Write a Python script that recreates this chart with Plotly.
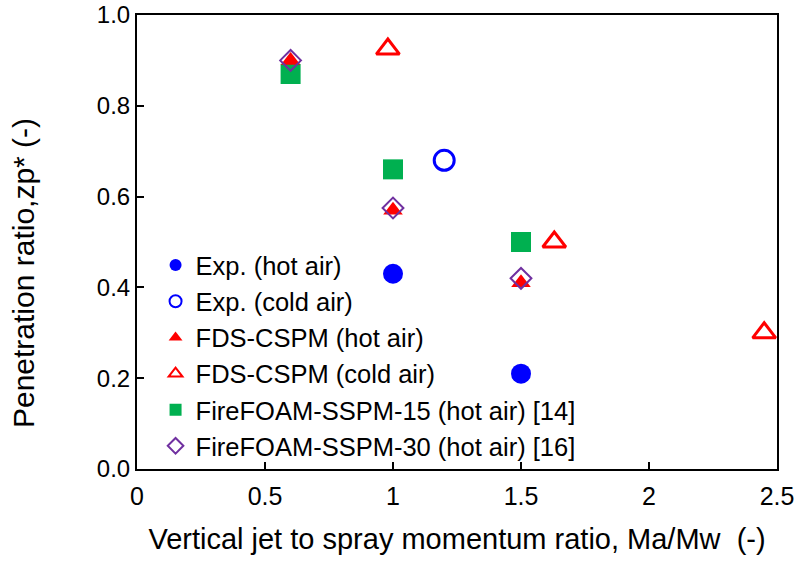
import plotly.graph_objects as go

# Data
exp_hot_x = [1.0, 1.5]
exp_hot_y = [0.43, 0.21]
exp_cold_x = [1.2]
exp_cold_y = [0.68]
fds_hot_x = [0.6, 1.0, 1.5]
fds_hot_y = [0.90, 0.57, 0.41]
fds_cold_x = [0.98, 1.63, 2.45]
fds_cold_y = [0.925, 0.50, 0.30]
ff15_x = [0.6, 1.0, 1.5]
ff15_y = [0.87, 0.66, 0.50]
ff30_x = [0.6, 1.0, 1.5]
ff30_y = [0.90, 0.575, 0.42]

FONT = "Liberation Sans, Arial, sans-serif"

fig = go.Figure()

def add(x, y, name, symbol, color, size, lw=0, lc=None, rank=1):
    fig.add_trace(go.Scatter(
        x=x, y=y, mode="markers", name=name, legendrank=rank,
        legendgroup=name,
        cliponaxis=False,
        marker=dict(symbol=symbol, size=size, color=color,
                    line=dict(width=lw, color=lc if lc else color)),
    ))

# draw order: square first so others overlay
add(ff15_x, ff15_y, "FireFOAM-SSPM-15 (hot air) [14]", "square", "#00B050", 20, rank=5)
add(exp_hot_x, exp_hot_y, "Exp. (hot air)", "circle", "#0000FF", 20, rank=1)
add(exp_cold_x, exp_cold_y, "Exp. (cold air)", "circle-open", "#0000FF", 20, lw=3, rank=2)
add(fds_hot_x, fds_hot_y, "FDS-CSPM (hot air)", "triangle-up", "#FF0000", 17, rank=3)
add(fds_cold_x, fds_cold_y, "FDS-CSPM (cold air)", "triangle-up-open", "#FF0000", 20, lw=3, rank=4)
add(ff30_x, ff30_y, "FireFOAM-SSPM-30 (hot air) [16]", "diamond-open", "#7030A0", 16, lw=2, rank=6)

axis_common = dict(
    showline=True, linecolor="black", linewidth=2, mirror=True,
    ticks="inside", ticklen=7, tickwidth=2, tickcolor="black",
    showgrid=False, zeroline=False, automargin=False,
    ticklabeloverflow="allow",
)

fig.update_xaxes(range=[0, 2.5], dtick=0.5, tick0=0, ticklabelstandoff=4,
                 tickfont=dict(family=FONT, size=25, color="black"),
                 title=dict(text="Vertical jet to spray momentum ratio, Ma/Mw\u00a0 (-)",
                            font=dict(family=FONT, size=29, color="black"), standoff=20),
                 **axis_common)
fig.update_yaxes(range=[0, 1.0], dtick=0.2, tick0=0, tickformat=".1f",
                 tickfont=dict(family=FONT, size=24, color="black"),
                 **axis_common)

fig.add_annotation(text="Penetration ratio,zp* (-)", textangle=-90,
                   xref="paper", yref="paper", x=-0.177, y=0.431,
                   xanchor="center", yanchor="middle",
                   showarrow=False, font=dict(family=FONT, size=30, color="black"))

fig.update_layout(
    width=800, height=568,
    margin=dict(l=137, r=23, t=15, b=99),
    paper_bgcolor="white", plot_bgcolor="white",
    font=dict(family=FONT, color="black"),
    legend=dict(x=0.029, y=0.50, xanchor="left", yanchor="top",
                bgcolor="rgba(0,0,0,0)", traceorder="grouped", tracegroupgap=0,
                font=dict(family=FONT, size=25.5, color="black"),
                itemsizing="constant", itemwidth=30),
    showlegend=True,
)

fig.write_html("out.html")
